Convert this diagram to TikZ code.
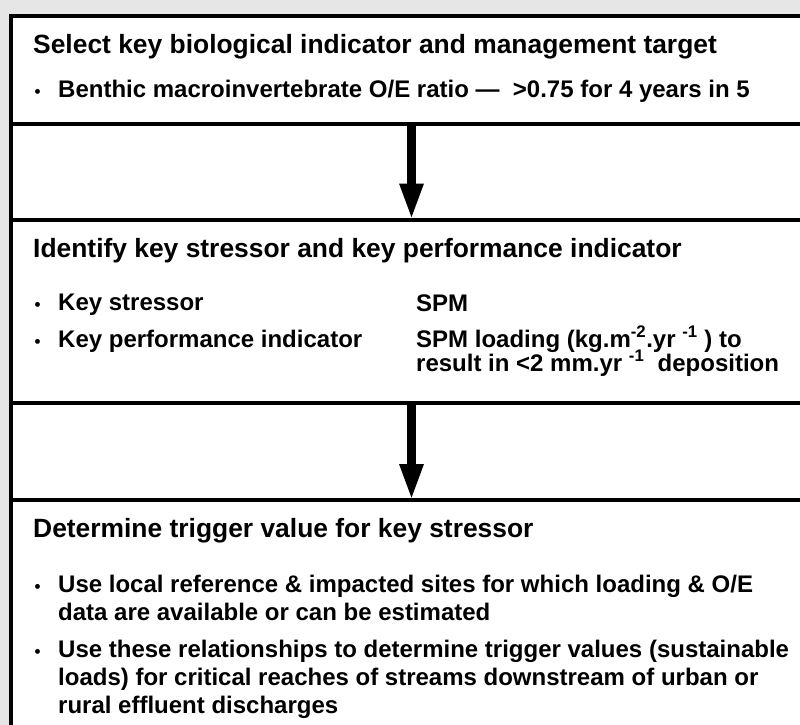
\documentclass[tikz,border=0pt]{standalone}
\usepackage{fontspec}
\setmainfont{Liberation Sans}
\usetikzlibrary{arrows.meta}
\definecolor{bggray}{RGB}{230,230,230}
\tikzset{
  frame/.style={line width=4pt, draw=black, fill=white, outer sep=0pt, inner sep=0pt, rectangle, anchor=north west, minimum width=800pt},
  ttl/.style={anchor=base west, inner sep=0pt, font=\fontsize{26.4}{29}\selectfont\bfseries},
  txt/.style={anchor=base west, inner sep=0pt, font=\fontsize{24}{28}\selectfont\bfseries},
  bul/.style={anchor=base, inner sep=0pt, font=\fontsize{17}{20}\selectfont\bfseries},
  flow/.style={line width=8.5pt, -{Triangle[width=22pt,length=36pt]}}
}
\begin{document}
\begin{tikzpicture}[x=1pt,y=-1pt]
\useasboundingbox (0,0) rectangle (800,725);
\fill[bggray] (0,0) rectangle (800,725);
\fill[white] (11,16) rectangle (800,725);
\draw[line width=4pt] (11,14) -- (11,727);
% boxes
\node[frame, minimum height=108pt] (box1) at (11,16) {};
\node[frame, minimum height=183.5pt] (box2) at (11,219.5) {};
\node[frame, minimum height=240pt] (box3) at (11,500) {};
\coordinate (ax) at (411.5,0);
\draw[flow] (box1.south -| ax) -- (box2.north -| ax);
\draw[flow] (box2.south -| ax) -- (box3.north -| ax);
% box 1
\node[ttl] (t1) at (33,53) {Select key biological indicator and management target};
\node[bul] (b1a) at (37.5,97) {•};
\node[txt] (l1a) at (58,97) {Benthic macroinvertebrate O/E ratio — \ >0.75 for 4 years in 5};
% box 2
\node[ttl] (t2) at (33,257) {Identify key stressor and key performance indicator};
\node[bul] (b2a) at (37.5,310) {•};
\node[txt] (l2a) at (58,310) {Key stressor};
\node[bul] (b2b) at (37.5,347) {•};
\node[txt] (l2b) at (58,347) {Key performance indicator};
\node[txt] (r2a) at (416,311) {SPM};
\node[txt] (r2b) at (416,347) {SPM loading (kg.m\textsuperscript{-2}.yr \textsuperscript{-1} ) to};
\node[txt] (r2c) at (416,371) {result in <2 mm.yr \textsuperscript{-1} \ deposition};
% box 3
\node[ttl] (t3) at (33,537) {Determine trigger value for key stressor};
\node[bul] (b3a) at (37.5,592) {•};
\node[txt] (l3a) at (58,592) {Use local reference \& impacted sites for which loading \& O/E};
\node[txt] (l3b) at (58,620) {data are available or can be estimated};
\node[bul] (b3b) at (37.5,657) {•};
\node[txt] (l3c) at (58,657) {Use these relationships to determine trigger values (sustainable};
\node[txt] (l3d) at (58,685) {loads) for critical reaches of streams downstream of urban or};
\node[txt] (l3e) at (58,713) {rural effluent discharges};
\end{tikzpicture}
\end{document}
